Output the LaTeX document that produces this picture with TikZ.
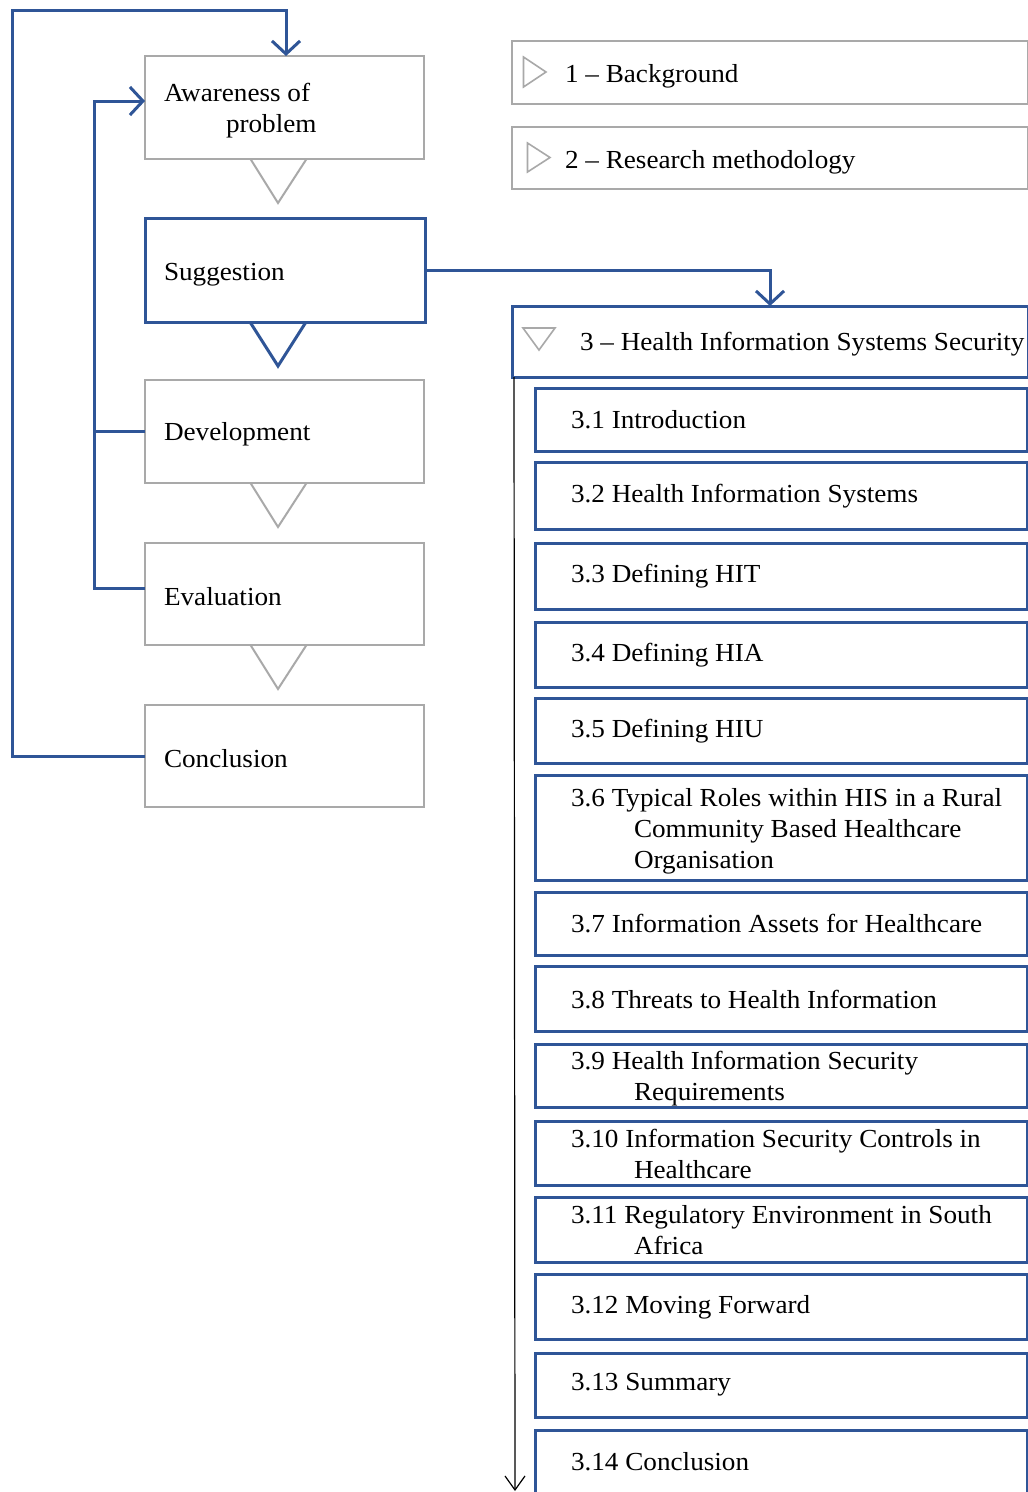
\documentclass[tikz,border=0pt]{standalone}
\usepackage{fontspec}
\setmainfont{Liberation Serif}[FakeStretch=1.045]
\usetikzlibrary{arrows.meta,calc}
\definecolor{dsblue}{HTML}{2F5597}
\definecolor{dsgray}{HTML}{A9A9A9}
\begin{document}
\begin{tikzpicture}[x=1pt,y=-1pt,
  every node/.style={font=\fontsize{26}{31}\selectfont, inner sep=0pt, outer sep=0pt},
  graybox/.style={draw=dsgray, line width=2pt, rectangle, fill=white},
  bluebox/.style={draw=dsblue, line width=3pt, rectangle, fill=white},
  txt/.style={anchor=west, align=left, text=black, yshift=-3.5pt},
  graytri/.style={draw=dsgray, line width=2pt, line join=miter},
  bluetri/.style={draw=dsblue, line width=3pt, line join=miter},
  flow/.style={draw=dsblue, line width=3pt, -{Straight Barb[length=13pt,width=28pt,line width=3pt]}},
  flowline/.style={draw=dsblue, line width=3pt},
  timeline/.style={draw=black, line width=1.2pt, -{Straight Barb[length=14pt,width=20pt,line width=1.2pt]}}
]
\useasboundingbox (0,0) rectangle (1028,1492);
\fill[white] (0,0) rectangle (1028,1492);

% ---- design science cycle (left column) ----
\node[graybox, minimum width=279pt, minimum height=103pt] (aw) at (284.5,107.5) {};
\node[bluebox, minimum width=280pt, minimum height=104pt] (sug) at (285,270) {};
\node[graybox, minimum width=279pt, minimum height=103pt] (dev) at (284.5,431.5) {};
\node[graybox, minimum width=279pt, minimum height=102pt] (ev) at (284.5,594) {};
\node[graybox, minimum width=279pt, minimum height=102pt] (con) at (284.5,756) {};

\node[txt] (awt) at (164,107.5) {Awareness of\\\hspace*{62pt}problem};
\node[txt] (sugt) at (164,271) {Suggestion};
\node[txt] (devt) at (164,431) {Development};
\node[txt] (evt) at (164,593) {Evaluation};
\node[txt] (cont) at (164,755) {Conclusion};

% step markers between the phases
\draw[graytri] ($(aw.south)+(-34,0)$) -- ($(aw.south)+(-6.5,44)$) -- ($(aw.south)+(22,0)$);
\draw[bluetri] ($(sug.south)+(-35,0)$) -- ($(sug.south)+(-7,44)$) -- ($(sug.south)+(21,0)$);
\draw[graytri] ($(dev.south)+(-34,0)$) -- ($(dev.south)+(-6.5,44)$) -- ($(dev.south)+(22,0)$);
\draw[graytri] ($(ev.south)+(-34,0)$) -- ($(ev.south)+(-6.5,44)$) -- ($(ev.south)+(22,0)$);

% feedback loops
\coordinate (outer) at (12,10);
\coordinate (inner) at (94,101);
\draw[flow] (con.west) -| (outer) -| ([xshift=1.5pt]aw.north);
\draw[flow] (ev.west |- 0,588) -| (inner) -- (inner -| aw.west);
\draw[flowline] (dev.west) -- (dev.west -| inner);

% ---- chapter outline (right column) ----
\node[graybox, minimum width=516pt, minimum height=63pt] (c1) at (770,72.5) {};
\node[graybox, minimum width=516pt, minimum height=62pt] (c2) at (770,158) {};
\node[bluebox, minimum width=516pt, minimum height=71pt] (c3) at (770,341.5) {};

\draw[graytri, line width=1.6pt] (523.5,57) -- (546,72) -- (523.5,87) -- cycle;
\draw[graytri, line width=1.6pt] (527.5,143) -- (550,157.5) -- (527.5,172) -- cycle;
\draw[graytri, line width=1.6pt] (523,328) -- (555,328) -- (539,350) -- cycle;

\node[txt] (c1t) at (565,73) {1 – Background};
\node[txt] (c2t) at (565,159) {2 – Research methodology};
\node[txt] (c3t) at (580,341) {3 – Health Information Systems Security};

\draw[flow] (sug.east) -| (c3.north);

\coordinate (tlend) at (515,1491);
\draw[timeline] ([xshift=2pt]c3.south west) -- (tlend);

\foreach \i/\t/\b/\ty/\txt in {
  1/388/451/416.5/{3.1 Introduction},
  2/462/529/492.5/{3.2 Health Information Systems},
  3/543/609/573/{3.3 Defining HIT},
  4/622/687/651.5/{3.4 Defining HIA},
  5/698/763/727.5/{3.5 Defining HIU},
  6/775/880/827.5/{3.6 Typical Roles within HIS in a Rural\\\hspace*{63pt}Community Based Healthcare\\\hspace*{63pt}Organisation},
  7/892/955/920.5/{3.7 Information Assets for Healthcare},
  8/966/1031/996/{3.8 Threats to Health Information},
  9/1044/1107/1075.5/{3.9 Health Information Security\\\hspace*{63pt}Requirements},
  10/1121/1185/1150/{3.10 Information Security Controls in\\\hspace*{63pt}Healthcare},
  11/1197/1262/1226.5/{3.11 Regulatory Environment in South\\\hspace*{63pt}Africa},
  12/1274/1339/1304/{3.12 Moving Forward},
  13/1353/1417/1381.5/{3.13 Summary},
  14/1430/1520/1458/{3.14 Conclusion}}{
  \node[bluebox, minimum width=492pt, minimum height={\b pt-\t pt}] (s\i) at (781,{(\t+\b)/2}) {};
  \node[txt] (s\i t) at (571,\ty) {\txt};
}
\end{tikzpicture}
\end{document}
